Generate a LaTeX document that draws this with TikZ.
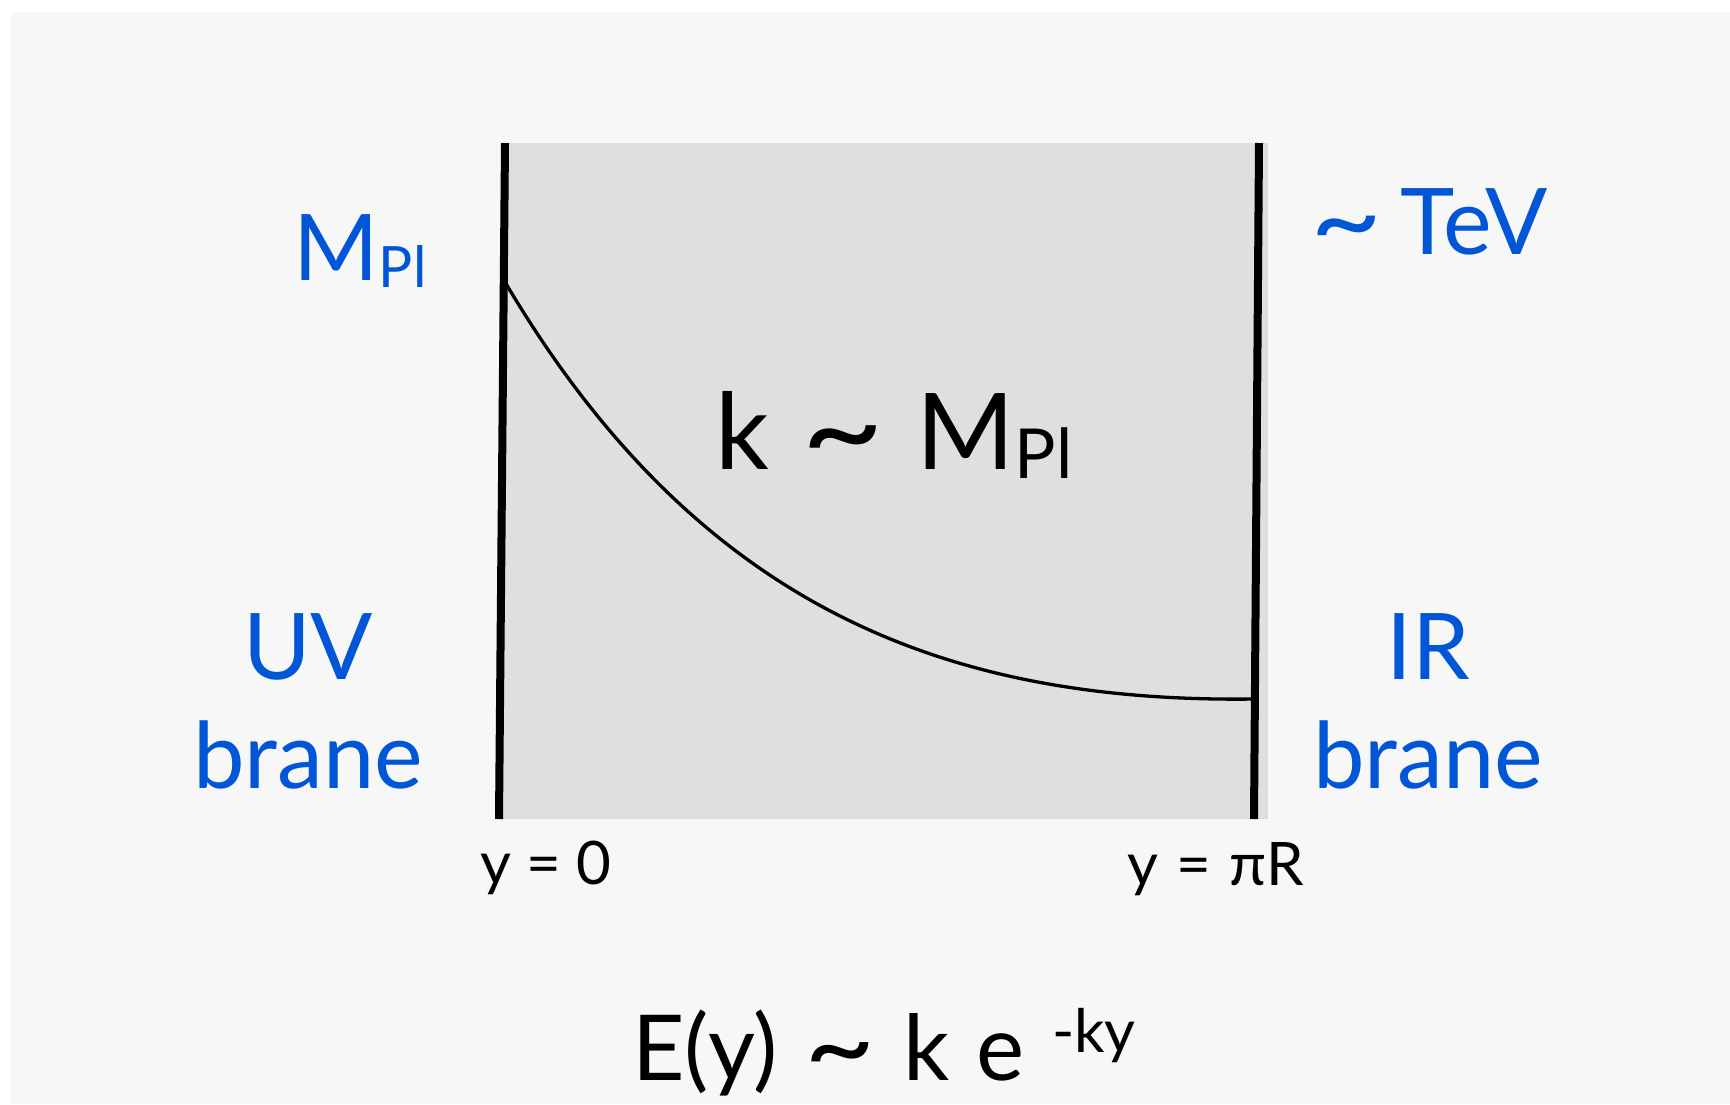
\documentclass[tikz,border=0pt]{standalone}
\usepackage{graphicx}
\usepackage{fontspec}
\setmainfont{Lato}
\definecolor{bgcol}{HTML}{F7F7F7}
\definecolor{boxcol}{HTML}{DFDFDF}
\definecolor{tblue}{HTML}{0056D6}
\newcommand{\fsz}[1]{\fontsize{#1}{#1}\selectfont}
\newcommand{\gap}{\hspace{0.3em}}
\newcommand{\tld}{\raisebox{-0.05em}{\scalebox{1.35}[1.2]{\textasciitilde}}}
\begin{document}
\begin{tikzpicture}[x=1pt,y=-1pt,
  brane/.style={line width=8pt},
  warp/.style={line width=3.3pt},
  bluelbl/.style={text=tblue,inner sep=0pt,anchor=base,font=\fsz{92}},
  blacklbl/.style={text=black,inner sep=0pt,anchor=base},
]
\useasboundingbox (0,0) rectangle (1730,1104);
\fill[bgcol] (11,12) rectangle (1730,1104);
\fill[boxcol] (501,143) rectangle (1268,819);
\coordinate (uvtop) at (505,143);
\coordinate (uvbot) at (499,819);
\coordinate (irtop) at (1259,143);
\coordinate (irbot) at (1254,819);
\coordinate (wstart) at (505,282);
\coordinate (wend) at (1255,699);
\draw[warp] (wstart) .. controls (700,612) and (952,703) .. (wend);
\draw[brane] (uvtop) -- (uvbot);
\draw[brane] (irtop) -- (irbot);
\node[bluelbl] (mpl) at (360,280) {M\raisebox{-7pt}{\fsz{57}Pl}};
\node[bluelbl] (tev) at (1429,254) {\tld\hspace{0.2em}TeV};
\node[bluelbl] (uv) at (308,679) {UV};
\node[bluelbl] (uvb) at (308,788) {brane};
\node[bluelbl] (ir) at (1428,679) {IR};
\node[bluelbl] (irb) at (1428,788) {brane};
\node[blacklbl,font=\fsz{106}] (kmpl) at (894,469) {k\gap\tld\gap M\raisebox{-9pt}{\fsz{69}Pl}};
\node[blacklbl,font=\fsz{60}] (y0) at (546,884) {y = 0};
\node[blacklbl,font=\fsz{60}] (ypr) at (1216,885) {y\hspace{0.3em}=\hspace{0.3em}πR};
\node[blacklbl,font=\fsz{91}] (ey) at (884,1080) {E(y)\gap\tld\gap k\gap e\gap\raisebox{28pt}{\fsz{60}-ky}};
\end{tikzpicture}
\end{document}
